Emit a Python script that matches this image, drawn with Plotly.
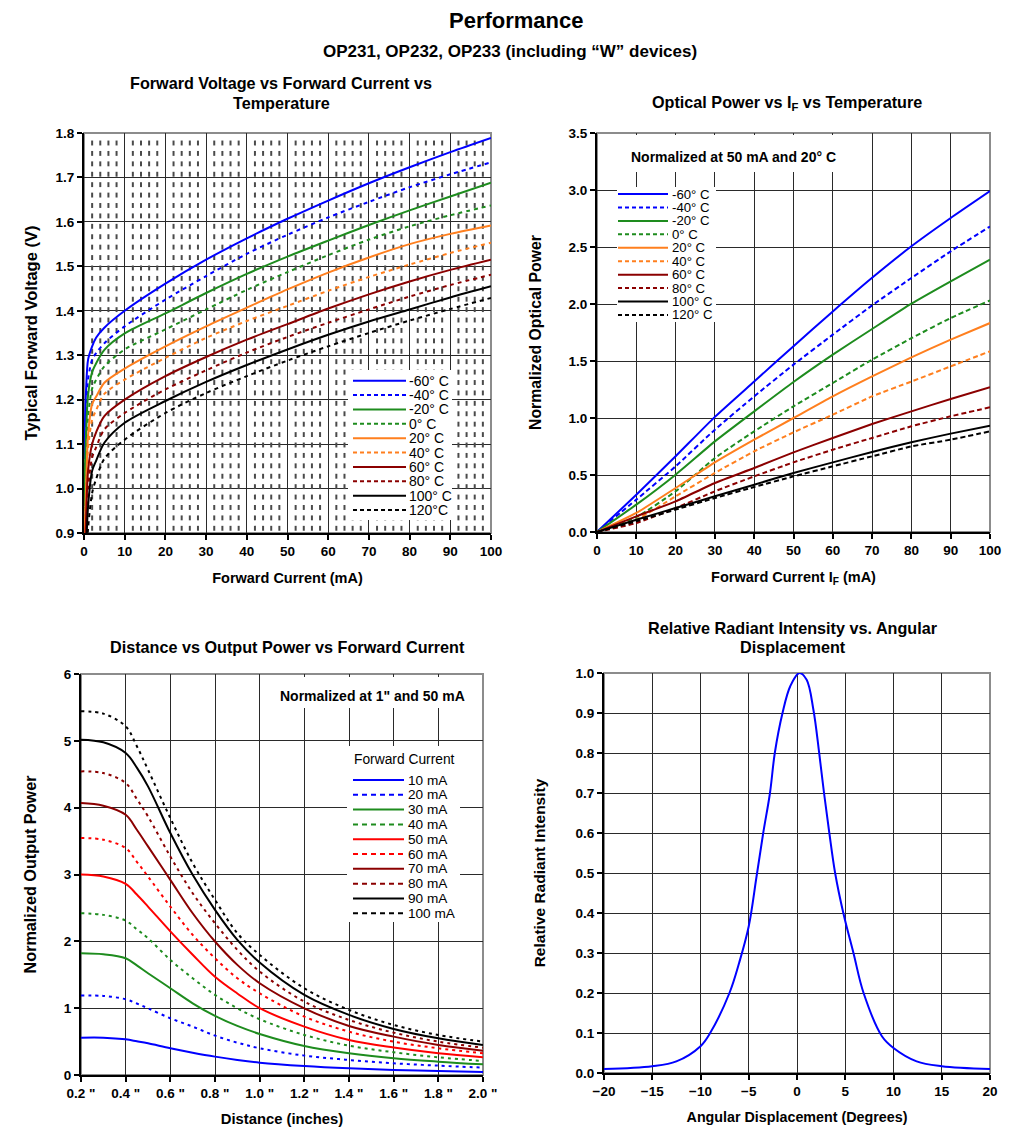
import plotly.graph_objects as go
import numpy as np

# ---------------- DATA ----------------
# Chart 1: Forward voltage vs forward current vs temperature
vf_current = [0, 0.5, 1, 2, 3, 5, 10, 20, 30, 40, 50, 60, 70, 80, 90, 100]
vf_m60 = [1.07, 1.22, 1.29, 1.32, 1.34, 1.362, 1.400, 1.461, 1.515, 1.563, 1.607, 1.648, 1.687, 1.723, 1.757, 1.789]
vf_m40 = [1.03, 1.16, 1.245, 1.29, 1.305, 1.327, 1.365, 1.425, 1.478, 1.528, 1.571, 1.610, 1.645, 1.678, 1.707, 1.734]
vf_m20 = [0.96, 1.12, 1.21, 1.262, 1.282, 1.312, 1.349, 1.394, 1.440, 1.483, 1.522, 1.558, 1.593, 1.626, 1.657, 1.688]
vf_0 = [0.86, 1.05, 1.16, 1.225, 1.245, 1.275, 1.313, 1.358, 1.403, 1.447, 1.487, 1.525, 1.560, 1.590, 1.615, 1.637]
vf_20 = [0.84, 1.00, 1.12, 1.19, 1.207, 1.238, 1.270, 1.320, 1.365, 1.407, 1.448, 1.486, 1.520, 1.550, 1.573, 1.592]
vf_40 = [0.84, 0.98, 1.09, 1.155, 1.177, 1.213, 1.245, 1.294, 1.339, 1.377, 1.411, 1.445, 1.476, 1.504, 1.530, 1.553]
vf_60 = [0.82, 0.93, 1.04, 1.10, 1.127, 1.163, 1.200, 1.253, 1.296, 1.335, 1.370, 1.405, 1.437, 1.466, 1.492, 1.515]
vf_80 = [0.80, 0.90, 1.00, 1.07, 1.093, 1.133, 1.170, 1.223, 1.266, 1.306, 1.341, 1.373, 1.403, 1.432, 1.458, 1.481]
vf_100 = [0.75, 0.86, 0.96, 1.04, 1.063, 1.103, 1.148, 1.197, 1.240, 1.278, 1.313, 1.346, 1.376, 1.403, 1.430, 1.455]
vf_120 = [0.72, 0.82, 0.91, 0.99, 1.022, 1.067, 1.110, 1.170, 1.215, 1.253, 1.288, 1.320, 1.350, 1.378, 1.404, 1.429]

# Chart 2: Optical power vs IF vs temperature
op_current = [0, 10, 20, 30, 40, 50, 60, 70, 80, 90, 100]
op_m60 = [0, 0.327, 0.664, 1.01, 1.32, 1.63, 1.935, 2.23, 2.506, 2.754, 2.99]
op_m40 = [0, 0.284, 0.576, 0.898, 1.19, 1.468, 1.731, 1.988, 2.228, 2.462, 2.68]
op_m20 = [0, 0.24, 0.503, 0.795, 1.058, 1.316, 1.556, 1.781, 2.003, 2.199, 2.389]
op_0 = [0, 0.13, 0.357, 0.649, 0.883, 1.102, 1.307, 1.512, 1.70, 1.877, 2.032]
op_20 = [0, 0.167, 0.386, 0.611, 0.81, 1.0, 1.19, 1.365, 1.532, 1.687, 1.833]
op_40 = [0, 0.108, 0.313, 0.518, 0.708, 0.874, 1.029, 1.19, 1.32, 1.453, 1.585]
op_60 = [0, 0.137, 0.269, 0.43, 0.561, 0.699, 0.825, 0.947, 1.058, 1.167, 1.269]
op_80 = [0, 0.079, 0.21, 0.357, 0.488, 0.611, 0.722, 0.825, 0.927, 1.015, 1.094]
op_100 = [0, 0.108, 0.21, 0.313, 0.415, 0.518, 0.611, 0.702, 0.787, 0.863, 0.933]
op_120 = [0, 0.094, 0.196, 0.298, 0.395, 0.488, 0.576, 0.664, 0.751, 0.81, 0.883]
temp_labels_1 = ["-60° C", "-40° C", "-20° C", "0° C", "20° C", "40° C", "60° C", "80° C", "100° C", "120°C"]
temp_labels_2 = ["-60° C", "-40° C", "-20° C", "0° C", "20° C", "40° C", "60° C", "80° C", "100° C", "120° C"]

# Chart 3: Distance vs output power vs forward current
distance = [0.2, 0.3, 0.4, 0.45, 0.5, 0.6, 0.7, 0.8, 0.9, 1.0, 1.2, 1.4, 1.6, 1.8, 2.0]
dp_10 = [0.559, 0.559, 0.534, 0.505, 0.474, 0.40, 0.334, 0.275, 0.225, 0.185, 0.135, 0.10, 0.075, 0.06, 0.045]
dp_20 = [1.188, 1.183, 1.133, 1.07, 0.998, 0.849, 0.724, 0.589, 0.484, 0.40, 0.29, 0.225, 0.175, 0.14, 0.11]
dp_30 = [1.822, 1.807, 1.747, 1.64, 1.523, 1.298, 1.073, 0.884, 0.734, 0.614, 0.434, 0.325, 0.25, 0.20, 0.16]
dp_40 = [2.421, 2.396, 2.31, 2.18, 2.047, 1.722, 1.448, 1.198, 0.998, 0.834, 0.599, 0.439, 0.34, 0.265, 0.21]
dp_50 = [3.0, 2.97, 2.86, 2.70, 2.52, 2.15, 1.80, 1.47, 1.22, 1.0, 0.724, 0.524, 0.41, 0.325, 0.265]
dp_60 = [3.545, 3.52, 3.395, 3.19, 2.97, 2.52, 2.097, 1.747, 1.448, 1.223, 0.874, 0.649, 0.499, 0.40, 0.325]
dp_70 = [4.069, 4.03, 3.894, 3.67, 3.42, 2.92, 2.42, 1.997, 1.648, 1.373, 0.998, 0.734, 0.574, 0.449, 0.364]
dp_80 = [4.543, 4.518, 4.368, 4.13, 3.869, 3.27, 2.72, 2.27, 1.872, 1.548, 1.098, 0.824, 0.634, 0.499, 0.409]
dp_90 = [5.017, 4.978, 4.818, 4.60, 4.319, 3.62, 2.995, 2.471, 2.022, 1.682, 1.198, 0.899, 0.689, 0.549, 0.449]
dp_100 = [5.442, 5.407, 5.217, 4.92, 4.568, 3.844, 3.17, 2.621, 2.122, 1.797, 1.298, 0.974, 0.749, 0.599, 0.499]
current_labels = ["10 mA", "20 mA", "30 mA", "40 mA", "50 mA", "60 mA", "70 mA", "80 mA", "90 mA", "100 mA"]
distance_ticks = [0.2, 0.4, 0.6, 0.8, 1.0, 1.2, 1.4, 1.6, 1.8, 2.0]
distance_ticktext = ['0.2 "', '0.4 "', '0.6 "', '0.8 "', '1.0 "', '1.2 "', '1.4 "', '1.6 "', '1.8 "', '2.0 "']

# Chart 4: Relative radiant intensity vs angular displacement
angle = [-20, -15, -12.5, -10, -9, -7, -6, -5, -4.2, -3.5, -2.8, -2.3, -1.5, -0.7, 0.25,
         1.0, 1.7, 2.3, 2.8, 3.35, 3.95, 4.8, 5.85, 6.9, 8.8, 10, 12.4, 15, 20]
intensity = [0.01, 0.017, 0.029, 0.067, 0.10, 0.20, 0.275, 0.367, 0.49, 0.60, 0.70, 0.80, 0.90, 0.967, 1.0,
             0.983, 0.908, 0.80, 0.70, 0.60, 0.50, 0.40, 0.30, 0.20, 0.092, 0.0625, 0.029, 0.017, 0.01]

# ---------------- STYLE ----------------
W, H = 1011, 1132
FONT = "Liberation Sans, Arial, sans-serif"
BLUE, GREEN, ORANGE, DRED, BLACK, RED = "#0000FF", "#1E8C1E", "#FF7F1E", "#8B0000", "#000000", "#FF0000"
temp_colors = [BLUE, BLUE, GREEN, GREEN, ORANGE, ORANGE, DRED, DRED, BLACK, BLACK]
cur_colors = [BLUE, BLUE, GREEN, GREEN, RED, RED, DRED, DRED, BLACK, BLACK]
GRID = "#2a2a2a"


def PX(x):
    return x / W


def PY(y):
    return 1 - y / H


def dashes(pattern):
    return ["solid" if i % 2 == 0 else pattern for i in range(10)]


fig = go.Figure()

# dotted background pattern of chart 1 (plot-area pattern fill)
dot_x = [10 * c + k for c in range(10) for k in (2, 4, 6, 8)]
dot_y = [1.7775 - 0.02343 * r for r in range(38)]
gx, gy = np.meshgrid(dot_x, dot_y)
fig.add_trace(go.Scatter(x=gx.ravel(), y=gy.ravel(), mode="markers", xaxis="x", yaxis="y",
                         marker=dict(symbol="line-ns", size=3.5, line=dict(width=2, color="#4a4a4a")),
                         hoverinfo="skip", showlegend=False))

vf_series = [vf_m60, vf_m40, vf_m20, vf_0, vf_20, vf_40, vf_60, vf_80, vf_100, vf_120]
for vals, name, col, dsh in zip(vf_series, temp_labels_1, temp_colors, dashes("4px,4px")):
    fig.add_trace(go.Scatter(x=vf_current, y=vals, mode="lines", name=name, xaxis="x", yaxis="y",
                             line=dict(color=col, width=2, dash=dsh, shape="spline", smoothing=0.8),
                             showlegend=False))

op_series = [op_m60, op_m40, op_m20, op_0, op_20, op_40, op_60, op_80, op_100, op_120]
for vals, name, col, dsh in zip(op_series, temp_labels_2, temp_colors, dashes("5px,3px")):
    fig.add_trace(go.Scatter(x=op_current, y=vals, mode="lines", name=name, xaxis="x2", yaxis="y2",
                             line=dict(color=col, width=2, dash=dsh, shape="spline", smoothing=0.5),
                             showlegend=False))

dp_series = [dp_10, dp_20, dp_30, dp_40, dp_50, dp_60, dp_70, dp_80, dp_90, dp_100]
for vals, name, col, dsh in zip(dp_series, current_labels, cur_colors, dashes("3px,4px")):
    fig.add_trace(go.Scatter(x=distance, y=vals, mode="lines", name=name, xaxis="x3", yaxis="y3",
                             line=dict(color=col, width=2, dash=dsh, shape="spline", smoothing=1.0),
                             showlegend=False))

fig.add_trace(go.Scatter(x=angle, y=intensity, mode="lines", name="Relative Radiant Intensity",
                         xaxis="x4", yaxis="y4", line=dict(color=BLUE, width=2, shape="spline", smoothing=1.0),
                         showlegend=False))


def axis(domain, anchor, rng, dtick, title, tsize, standoff, fmt=None, **kw):
    d = dict(domain=domain, anchor=anchor, range=rng, dtick=dtick, tick0=rng[0],
             showgrid=True, gridcolor=GRID, gridwidth=1, zeroline=False,
             showline=True, linecolor="black", linewidth=2,
             ticks="outside", ticklen=5, tickwidth=1.5, tickcolor="black",
             tickfont=dict(family=FONT, size=13.5, color="black", weight="bold"),
             title=dict(text=title, standoff=standoff,
                        font=dict(family=FONT, size=tsize, color="black", weight="bold")),
             automargin=False, fixedrange=True)
    if fmt:
        d["tickformat"] = fmt
    d.update(kw)
    return d


fig.update_layout(
    width=W, height=H, margin=dict(l=0, r=0, t=0, b=0),
    paper_bgcolor="white", plot_bgcolor="white", showlegend=False,
    xaxis=axis([PX(84), PX(491)], "y", [0, 100], 10, "Forward Current (mA)", 14.5, 15),
    yaxis=axis([PY(533), PY(133)], "x", [0.9, 1.8], 0.1, "Typical Forward Voltage (V)", 16.5, 14, ".1f"),
    xaxis2=axis([PX(597), PX(990)], "y2", [0, 100], 10, "Forward Current I<sub>F</sub> (mA)", 14.5, 15),
    yaxis2=axis([PY(532), PY(133)], "x2", [0, 3.5], 0.5, "Normalized Optical Power", 15.8, 23, ".1f"),
    xaxis3=axis([PX(81), PX(483)], "y3", [0.2, 2.0], 0.2, "Distance (inches)", 14.8, 13, tickmode="array",
                tickvals=distance_ticks, ticktext=distance_ticktext),
    yaxis3=axis([PY(1075), PY(674)], "x3", [0, 6], 1, "Normalized Output Power", 16.2, 23),
    xaxis4=axis([PX(604), PX(990)], "y4", [-20, 20], 5, "Angular Displacement (Degrees)", 14.3, 14),
    yaxis4=axis([PY(1073), PY(673)], "x4", [0, 1], 0.1, "Relative Radiant Intensity", 15.5, 26, ".1f"),
)

# gray plot-area frames
for xr, yr in (("x", "y"), ("x2", "y2"), ("x3", "y3"), ("x4", "y4")):
    fig.add_shape(type="rect", xref=f"{xr} domain", yref=f"{yr} domain", x0=0, x1=1, y0=0, y1=1,
                  line=dict(color="#8C8C8C", width=2), layer="below")


def white_box(x0, y0, x1, y1):
    fig.add_shape(type="rect", xref="paper", yref="paper", x0=PX(x0), x1=PX(x1), y0=PY(y1), y1=PY(y0),
                  fillcolor="white", line=dict(width=0), layer="above")


def text(x, y, s, size, bold=False, xanchor="center"):
    fig.add_annotation(x=PX(x), y=PY(y), xref="paper", yref="paper", text=(f"<b>{s}</b>" if bold else s),
                       showarrow=False, xanchor=xanchor, yanchor="middle",
                       font=dict(family=FONT, size=size, color="black"))


def legend(names, colors, dsh, lx0, lx1, tx, y_first, step, size):
    for i, (n, c, d) in enumerate(zip(names, colors, dsh)):
        yy = y_first + i * step
        fig.add_shape(type="line", xref="paper", yref="paper", x0=PX(lx0), x1=PX(lx1), y0=PY(yy), y1=PY(yy),
                      line=dict(color=c, width=2, dash=d), layer="above")
        text(tx, yy, n, size, xanchor="left")


# Chart 1 legend
white_box(348, 370, 452, 520)
legend(temp_labels_1, temp_colors, dashes("4px,3px"), 353, 406, 407, 380.7, 14.37, 14)

# Chart 2 note + legend
white_box(618, 135, 848, 172)
text(733, 157, "Normalized at 50 mA and 20° C", 14, bold=True)
white_box(617, 187, 716, 322)
legend(temp_labels_2, temp_colors, dashes("4px,3px"), 618, 668, 670, 194, 13.44, 13.2)

# Chart 3 note + legend
white_box(262, 677, 481, 708)
text(372, 695.5, 'Normalized at 1" and 50 mA', 14, bold=True)
white_box(347, 746, 460, 922)
text(352, 759, "Forward Current", 13.8, xanchor="left")
legend(current_labels, cur_colors, dashes("5px,4px"), 353, 404, 406, 780, 14.81, 13.6)

# Page titles
text(516, 20, "Performance", 22, bold=True)
text(510, 52, "OP231, OP232, OP233 (including “W” devices)", 17, bold=True)

# Chart titles
text(281, 83, "Forward Voltage vs Forward Current vs", 16.2, bold=True)
text(281, 103, "Temperature", 16.2, bold=True)
text(787, 103, "Optical Power vs I<sub>F</sub> vs Temperature", 16.2, bold=True)
text(287, 647, "Distance vs Output Power vs Forward Current", 16.2, bold=True)
text(793, 628, "Relative Radiant Intensity vs. Angular", 16.2, bold=True)
text(793, 647, "Displacement", 16.2, bold=True)

fig.write_html("out.html")
